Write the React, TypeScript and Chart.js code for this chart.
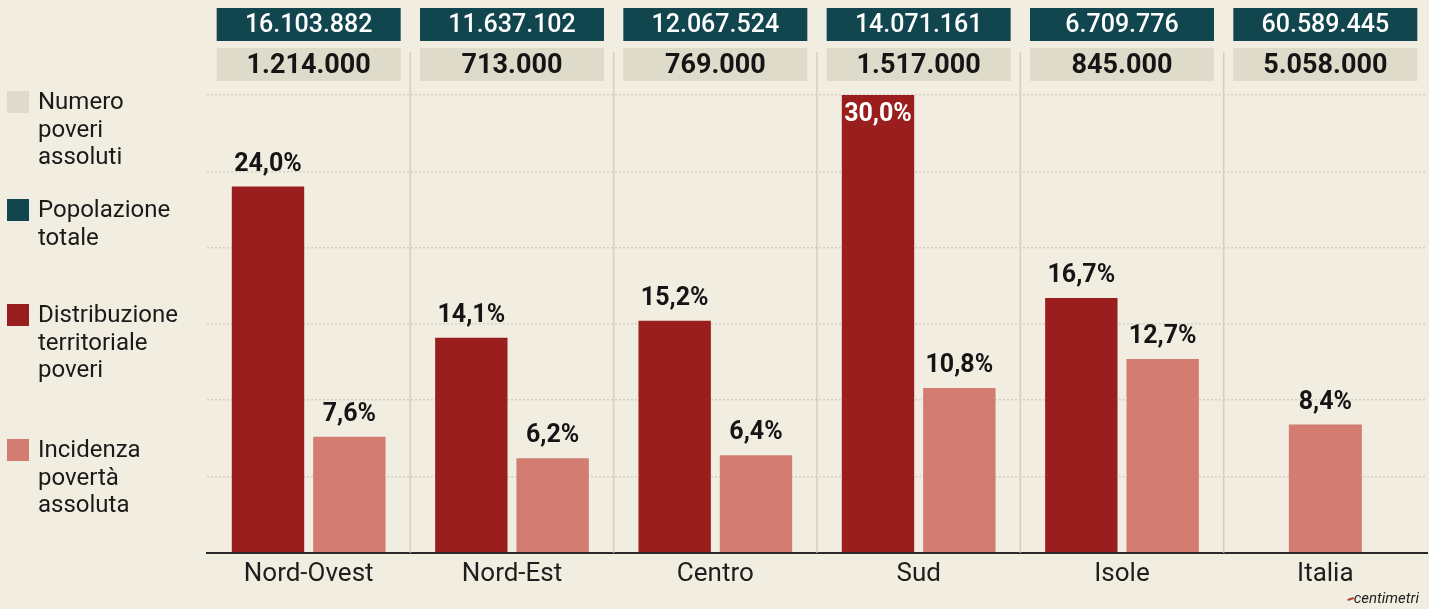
import React, { useEffect, useRef } from 'react';
import { Chart, registerables } from 'chart.js';

Chart.register(...registerables);

const categories = ['Nord-Ovest', 'Nord-Est', 'Centro', 'Sud', 'Isole', 'Italia'];
const popolazioneTotale = [16103882, 11637102, 12067524, 14071161, 6709776, 60589445];
const numeroPoveri = [1214000, 713000, 769000, 1517000, 845000, 5058000];
const distribuzione: (number | null)[] = [24.0, 14.1, 15.2, 30.0, 16.7, null];
const incidenza = [7.6, 6.2, 6.4, 10.8, 12.7, 8.4];
const legendLabels = [
  ['Numero', 'poveri', 'assoluti'],
  ['Popolazione', 'totale'],
  ['Distribuzione', 'territoriale', 'poveri'],
  ['Incidenza', 'povertà', 'assoluta'],
];

const BG = '#f1ede0';
const TEAL = '#11464f';
const LIGHTBOX = '#dfdbca';
const DARKRED = '#9b1e1f';
const SALMON = '#d27c72';
const FONT = 'Roboto, "DejaVu Sans", sans-serif';

const fmtThousands = (n: number) => String(n).replace(/\B(?=(\d{3})+(?!\d))/g, '.');
const fmtPct = (v: number) => v.toFixed(1).replace('.', ',') + '%';

const decorPlugin = {
  id: 'decor',
  beforeDraw(chart: any) {
    const { ctx, width, height } = chart;
    ctx.save();
    ctx.fillStyle = BG;
    ctx.fillRect(0, 0, width, height);
    ctx.restore();
  },
  beforeDatasetsDraw(chart: any) {
    const { ctx, chartArea, scales } = chart;
    const x = scales.x;
    ctx.save();
    ctx.strokeStyle = '#d2cec2';
    ctx.lineWidth = 1.5;
    for (let i = 1; i < categories.length; i++) {
      const px = (x.getPixelForValue(i - 1) + x.getPixelForValue(i)) / 2;
      ctx.beginPath();
      ctx.moveTo(px, 52);
      ctx.lineTo(px, chartArea.bottom);
      ctx.stroke();
    }
    ctx.restore();
  },
  afterDatasetsDraw(chart: any) {
    const { ctx, chartArea } = chart;
    ctx.save();
    ctx.font = `bold 25px ${FONT}`;
    ctx.textAlign = 'center';
    ctx.textBaseline = 'middle';
    chart.data.datasets.forEach((ds: any, di: number) => {
      const meta = chart.getDatasetMeta(di);
      meta.data.forEach((el: any, i: number) => {
        const v = ds.data[i];
        if (v == null) return;
        const txt = fmtPct(v);
        if (el.y - 40 < chartArea.top) {
          ctx.fillStyle = '#ffffff';
          ctx.fillText(txt, el.x, el.y + 20);
        } else {
          ctx.fillStyle = '#151515';
          ctx.fillText(txt, el.x, el.y - 22);
        }
      });
    });
    ctx.restore();
  },
  afterDraw(chart: any) {
    const { ctx, scales, width } = chart;
    const x = scales.x;
    ctx.save();
    // header boxes
    const boxW = 184;
    categories.forEach((_, i) => {
      const cx = x.getPixelForValue(i);
      ctx.fillStyle = TEAL;
      ctx.fillRect(cx - boxW / 2, 8, boxW, 33);
      ctx.fillStyle = LIGHTBOX;
      ctx.fillRect(cx - boxW / 2, 48, boxW, 33);
      ctx.textAlign = 'center';
      ctx.textBaseline = 'middle';
      ctx.fillStyle = '#ffffff';
      ctx.font = `500 25px ${FONT}`;
      ctx.fillText(fmtThousands(popolazioneTotale[i]), cx, 26);
      ctx.fillStyle = '#151515';
      ctx.font = `bold 27px ${FONT}`;
      ctx.fillText(fmtThousands(numeroPoveri[i]), cx, 66);
    });
    // legend
    const colors = [LIGHTBOX, TEAL, DARKRED, SALMON];
    const tops = [91, 199, 304, 439];
    ctx.textAlign = 'left';
    ctx.textBaseline = 'middle';
    ctx.font = `24px ${FONT}`;
    legendLabels.forEach((lines, i) => {
      ctx.fillStyle = colors[i];
      ctx.fillRect(7, tops[i], 22, 22);
      ctx.fillStyle = '#1a1a1a';
      lines.forEach((ln, j) => {
        ctx.fillText(ln, 38, tops[i] + 12 + j * 27.5);
      });
    });
    // credit
    ctx.font = `italic 15px ${FONT}`;
    ctx.textAlign = 'right';
    ctx.textBaseline = 'middle';
    ctx.fillStyle = '#222';
    const right = width - 10;
    ctx.fillText('centimetri', right, 599);
    const w = ctx.measureText('centimetri').width;
    ctx.strokeStyle = '#c0392b';
    ctx.lineWidth = 2;
    ctx.beginPath();
    ctx.moveTo(right - w - 6, 600);
    ctx.lineTo(right - w, 598);
    ctx.stroke();
    ctx.restore();
  },
};

export default function App() {
  const ref = useRef<HTMLCanvasElement | null>(null);
  useEffect(() => {
    document.body.style.margin = '0';
    document.body.style.background = BG;
    const canvas = ref.current;
    if (!canvas) return;
    const chart = new Chart(canvas, {
      type: 'bar',
      data: {
        labels: categories,
        datasets: [
          {
            label: 'Distribuzione territoriale poveri',
            data: distribuzione,
            backgroundColor: DARKRED,
          },
          {
            label: 'Incidenza povertà assoluta',
            data: incidenza,
            backgroundColor: SALMON,
          },
        ],
      },
      options: {
        responsive: false,
        animation: false,
        events: [],
        skipNull: true,
        maxBarThickness: 73,
        categoryPercentage: 0.8,
        barPercentage: 0.89,
        layout: { padding: { left: 207, right: 2, top: 95, bottom: 13 } },
        plugins: {
          legend: { display: false },
          tooltip: { enabled: false },
        },
        scales: {
          x: {
            grid: { display: false, drawTicks: false },
            border: { display: true, color: '#2a2a2a', width: 2 },
            ticks: {
              color: '#1e1e1e',
              padding: 6,
              font: { family: FONT, size: 26 },
            },
          },
          y: {
            min: 0,
            max: 30,
            ticks: { display: false, stepSize: 5 },
            grid: {
              drawTicks: false,
              color: (c: any) => (c.tick && c.tick.value === 0 ? 'rgba(0,0,0,0)' : '#d3cfc2'),
              lineWidth: 1.5,
            },
            border: { display: false, dash: [2, 2] },
          },
        },
      } as any,
      plugins: [decorPlugin],
    });
    return () => chart.destroy();
  }, []);
  return (
    <div style={{ width: 1429, height: 609, background: BG }}>
      <canvas ref={ref} width={1429} height={609} style={{ display: 'block' }} />
    </div>
  );
}
